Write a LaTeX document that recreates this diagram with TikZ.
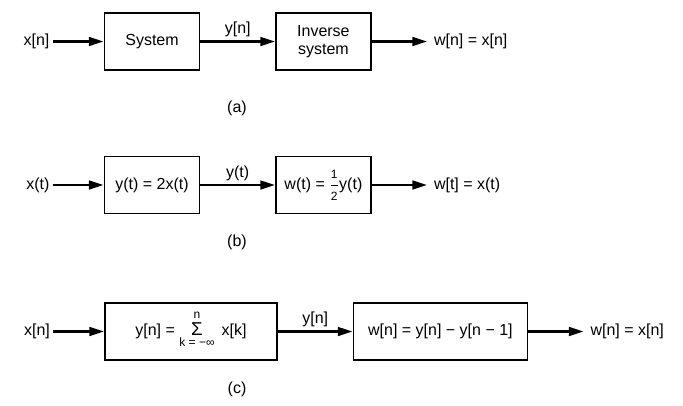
\documentclass[tikz,border=0pt]{standalone}
\usepackage{fontspec}
\setmainfont{Liberation Sans}
\usepackage{tikz}
\usetikzlibrary{arrows.meta, positioning}
\newcommand{\smalltxt}[1]{\hbox{\fontsize{9}{10}\selectfont #1}}
\newcommand{\sumstack}[2]{\smash{\raisebox{-8.5pt}{\vbox{\offinterlineskip
  \halign{\hfil##\hfil\cr \smalltxt{#1}\cr\noalign{\kern3pt}
  \hbox{\fontsize{14}{14}\selectfont Σ}\cr\noalign{\kern2pt}
  \smalltxt{#2}\cr}}}}}

\begin{document}
\begin{tikzpicture}[x=0.75pt, y=-0.75pt,
  font=\fontsize{12}{14}\selectfont,
  block/.style={draw, line width=1.3pt, minimum width=71.25pt, minimum height=42.75pt, align=center, inner sep=2pt},
  sig/.style={line width=1.8pt, -{Triangle[length=11pt, width=6.5pt]}},
  sigin/.style={inner xsep=2.5pt, inner ysep=0pt},
  sigout/.style={inner xsep=5pt, inner ysep=0pt},
  lbl/.style={above=1.5pt, inner sep=1pt},
  node distance=56pt]
  \useasboundingbox (0,0) rectangle (683,405);

  % (a) system followed by its inverse
  \node[block] (a1) at (152,41.5) {System};
  \node[block, right=of a1] (a2) {Inverse\\system};
  \node[sigin, left=38pt of a1] (xa) {x[n]};
  \node[sigout, right=41.5pt of a2] (wa) {w[n] = x[n]};
  \draw[sig] (xa) -- (a1);
  \draw[sig] (a1) -- node[lbl] (ya) {y[n]} (a2);
  \draw[sig] (a2) -- (wa);
  \node (capa) at (237,108) {(a)};

  % (b)
  \node[block] (b1) at (152,185) {y(t) = 2x(t)};
  \node[block, right=of b1] (b2) {w(t) = $\displaystyle\frac{\smalltxt{1}}{\smalltxt{2}}$y(t)};
  \node[sigin, left=38pt of b1] (xb) {x(t)};
  \node[sigout, right=41.5pt of b2] (wb) {w[t] = x(t)};
  \draw[sig] (xb) -- (b1);
  \draw[sig] (b1) -- node[lbl] (yb) {y(t)} (b2);
  \draw[sig] (b2) -- (wb);
  \node (capb) at (237,242) {(b)};

  % (c) accumulator and first difference
  \node[block, minimum width=129pt] (c1) at (191,331.5)
    {y[n] = \sumstack{n}{k = −∞}\, x[k]};
  \node[block, minimum width=130.5pt, right=of c1] (c2) {w[n] = y[n] − y[n − 1]};
  \node[sigin, left=38pt of c1] (xc) {x[n]};
  \node[sigout, right=41.5pt of c2] (wc) {w[n] = x[n]};
  \draw[sig] (xc) -- (c1);
  \draw[sig] (c1) -- node[lbl] (yc) {y[n]} (c2);
  \draw[sig] (c2) -- (wc);
  \node (capc) at (237,389) {(c)};
\end{tikzpicture}
\end{document}
